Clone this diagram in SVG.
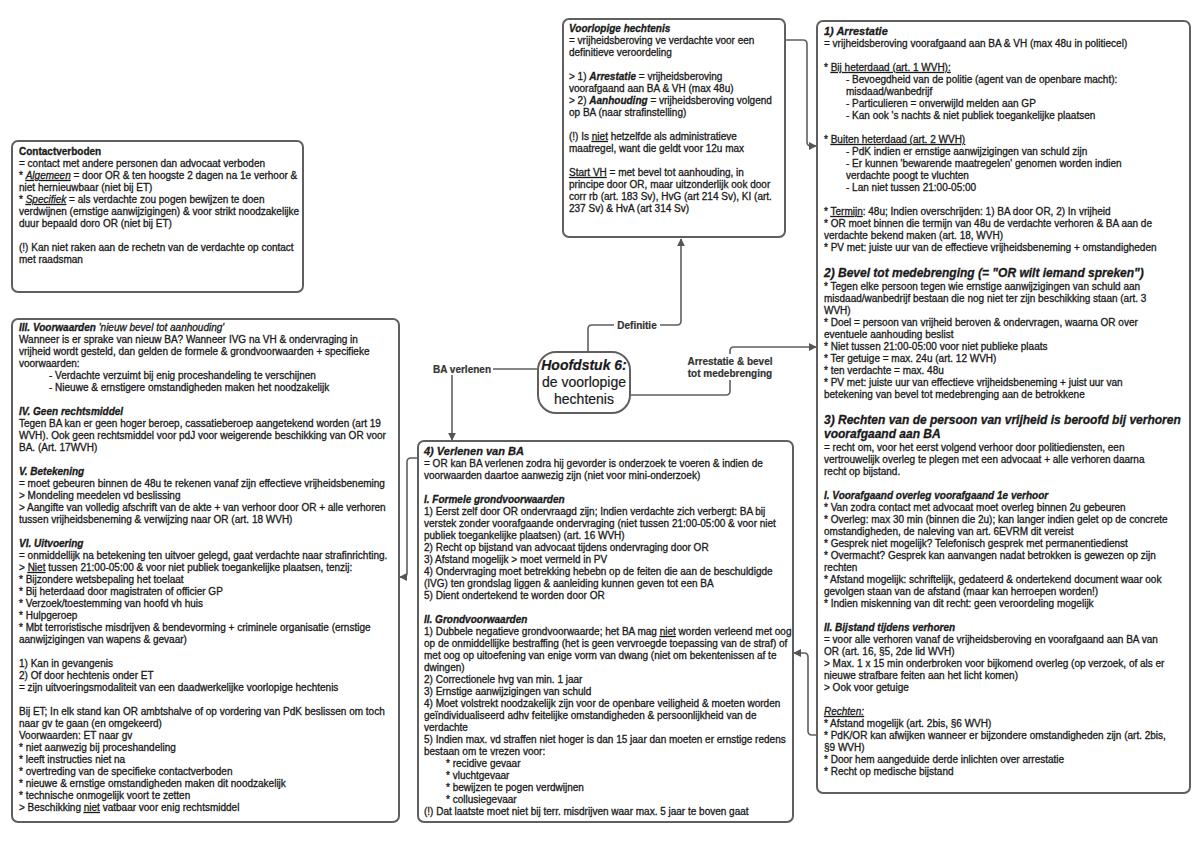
<svg xmlns="http://www.w3.org/2000/svg" width="1200" height="848" viewBox="0 0 1200 848">
<defs>
<style>
.t{font-family:"Liberation Sans",Arial,sans-serif;font-size:10px;fill:#1a1a1a;stroke:#1a1a1a;stroke-width:0.3}
.bi{font-weight:bold;font-style:italic}
.b{font-weight:bold}
.i{font-style:italic}
.u{text-decoration:underline}
.big{font-size:12px}
.box{fill:#fff;stroke:#5f5f5f;stroke-width:2}
.conn{fill:none;stroke:#5f5f5f;stroke-width:1.6}
.lbl{font-family:"Liberation Sans",Arial,sans-serif;font-size:10px;font-weight:bold;fill:#333;stroke:#333;stroke-width:0.2;text-anchor:middle}
.lblbg{fill:#fff}
.node{fill:#fff;stroke:#5f5f5f;stroke-width:2}
.nt{font-family:"Liberation Sans",Arial,sans-serif;font-size:14px;fill:#1a1a1a;stroke:#1a1a1a;stroke-width:0.2;text-anchor:middle}
</style>
<marker id="arr" viewBox="0 0 10 10" refX="9" refY="5" markerWidth="8" markerHeight="8" markerUnits="userSpaceOnUse" orient="auto">
<path d="M0,0 L10,5 L0,10 z" fill="#555"/>
</marker>
</defs>
<rect width="1200" height="848" fill="#fff"/>

<g id="connectors">
<path class="conn" d="M588,352 V329 Q588,325 592,325 H677 Q681,325 681,321 V239" marker-end="url(#arr)"/>
<path class="conn" d="M629,395 H726 Q730,395 730,391 V351 Q730,347 734,347 H816" marker-end="url(#arr)"/>
<path class="conn" d="M537,369 H456 Q452,369 452,373 V440" marker-end="url(#arr)"/>
<path class="conn" d="M785,40 H803 Q807,40 807,44 V142 Q807,146 811,146 H816" marker-end="url(#arr)"/>
<path class="conn" d="M418,458 H411 Q407,458 407,462 V573 Q407,577 403,577 H400" marker-end="url(#arr)"/>
<path class="conn" d="M817,735 H812 Q808,735 808,731 V657 Q808,653 804,653 H794" marker-end="url(#arr)"/>
<rect class="lblbg" x="614" y="319" width="46" height="12"/>
<text class="lbl" x="637" y="329">Definitie</text>
<rect class="lblbg" x="683" y="354" width="94" height="26"/>
<text class="lbl" x="730" y="365">Arrestatie &amp; bevel</text>
<text class="lbl" x="730" y="377">tot medebrenging</text>
<rect class="lblbg" x="431" y="363" width="62" height="12"/>
<text class="lbl" x="462" y="373">BA verlenen</text>
</g>

<g id="node-hoofdstuk">
<rect class="node" x="538" y="352" width="92" height="61" rx="18"/>
<text class="nt" x="584" y="370"><tspan class="bi">Hoofdstuk 6:</tspan><tspan x="584" dy="17">de voorlopige</tspan><tspan x="584" dy="17">hechtenis</tspan></text>
</g>

<g id="node-voorlopige">
<rect class="box" x="563" y="19" width="222" height="218" rx="6"/>
<text class="t" y="32">
<tspan x="569" class="bi">Voorlopige hechtenis</tspan>
<tspan x="569" dy="12">= vrijheidsberoving ve verdachte voor een</tspan>
<tspan x="569" dy="12">definitieve veroordeling</tspan>
<tspan x="569" dy="24">&gt; 1) <tspan class="bi">Arrestatie</tspan> = vrijheidsberoving</tspan>
<tspan x="569" dy="12">voorafgaand aan BA &amp; VH (max 48u)</tspan>
<tspan x="569" dy="12">&gt; 2) <tspan class="bi">Aanhouding</tspan> = vrijheidsberoving volgend</tspan>
<tspan x="569" dy="12">op BA (naar strafinstelling)</tspan>
<tspan x="569" dy="24">(!) Is <tspan class="u">niet</tspan> hetzelfde als administratieve</tspan>
<tspan x="569" dy="12">maatregel, want die geldt voor 12u max</tspan>
<tspan x="569" dy="24"><tspan class="u">Start VH</tspan> = met bevel tot aanhouding, in</tspan>
<tspan x="569" dy="12">principe door OR, maar uitzonderlijk ook door</tspan>
<tspan x="569" dy="12">corr rb (art. 183 Sv), HvG (art 214 Sv), KI (art.</tspan>
<tspan x="569" dy="12">237 Sv) &amp; HvA (art 314 Sv)</tspan>
</text>
</g>

<g id="node-contactverboden">
<rect class="box" x="12" y="141" width="291" height="151" rx="6"/>
<text class="t" y="155">
<tspan x="19" class="b">Contactverboden</tspan>
<tspan x="19" dy="12">= contact met andere personen dan advocaat verboden</tspan>
<tspan x="19" dy="12">* <tspan class="u i">Algemeen</tspan> = door OR &amp; ten hoogste 2 dagen na 1e verhoor &amp;</tspan>
<tspan x="19" dy="12">niet hernieuwbaar (niet bij ET)</tspan>
<tspan x="19" dy="12">* <tspan class="u i">Specifiek</tspan> = als verdachte zou pogen bewijzen te doen</tspan>
<tspan x="19" dy="12">verdwijnen (ernstige aanwijzigingen) &amp; voor strikt noodzakelijke</tspan>
<tspan x="19" dy="12">duur bepaald doro OR (niet bij ET)</tspan>
<tspan x="19" dy="24">(!) Kan niet raken aan de rechetn van de verdachte op contact</tspan>
<tspan x="19" dy="12">met raadsman</tspan>
</text>
</g>

<g id="node-voorwaarden">
<rect class="box" x="12" y="319" width="387" height="503" rx="6"/>
<text class="t" y="331">
<tspan x="19"><tspan class="bi">III. Voorwaarden </tspan><tspan class="i">'nieuw bevel tot aanhouding'</tspan></tspan>
<tspan x="19" dy="12">Wanneer is er sprake van nieuw BA? Wanneer IVG na VH &amp; ondervraging in</tspan>
<tspan x="19" dy="12">vrijheid wordt gesteld, dan gelden de formele &amp; grondvoorwaarden + specifieke</tspan>
<tspan x="19" dy="12">voorwaarden:</tspan>
<tspan x="49" dy="12">- Verdachte verzuimt bij enig proceshandeling te verschijnen</tspan>
<tspan x="49" dy="12">- Nieuwe &amp; ernstigere omstandigheden maken het noodzakelijk</tspan>
<tspan x="19" dy="24" class="bi">IV. Geen rechtsmiddel</tspan>
<tspan x="19" dy="12">Tegen BA kan er geen hoger beroep, cassatieberoep aangetekend worden (art 19</tspan>
<tspan x="19" dy="12">WVH). Ook geen rechtsmiddel voor pdJ voor weigerende beschikking van OR voor</tspan>
<tspan x="19" dy="12">BA. (Art. 17WVH)</tspan>
<tspan x="19" dy="24" class="bi">V. Betekening</tspan>
<tspan x="19" dy="12">= moet gebeuren binnen de 48u te rekenen vanaf zijn effectieve vrijheidsbeneming</tspan>
<tspan x="19" dy="12">&gt; Mondeling meedelen vd beslissing</tspan>
<tspan x="19" dy="12">&gt; Aangifte van volledig afschrift van de akte + van verhoor door OR + alle verhoren</tspan>
<tspan x="19" dy="12">tussen vrijheidsbeneming &amp; verwijzing naar OR (art. 18 WVH)</tspan>
<tspan x="19" dy="24" class="bi">VI. Uitvoering</tspan>
<tspan x="19" dy="12">= onmiddellijk na betekening ten uitvoer gelegd, gaat verdachte naar strafinrichting.</tspan>
<tspan x="19" dy="12">&gt; <tspan class="u">Niet</tspan> tussen 21:00-05:00 &amp; voor niet publiek toegankelijke plaatsen, tenzij:</tspan>
<tspan x="19" dy="12">* Bijzondere wetsbepaling het toelaat</tspan>
<tspan x="19" dy="12">* Bij heterdaad door magistraten of officier GP</tspan>
<tspan x="19" dy="12">* Verzoek/toestemming van hoofd vh huis</tspan>
<tspan x="19" dy="12">* Hulpgeroep</tspan>
<tspan x="19" dy="12">* Mbt terroristische misdrijven &amp; bendevorming + criminele organisatie (ernstige</tspan>
<tspan x="19" dy="12">aanwijzigingen van wapens &amp; gevaar)</tspan>
<tspan x="19" dy="24">1) Kan in gevangenis</tspan>
<tspan x="19" dy="12">2) Of door hechtenis onder ET</tspan>
<tspan x="19" dy="12">= zijn uitvoeringsmodaliteit van een daadwerkelijke voorlopige hechtenis</tspan>
<tspan x="19" dy="24">Bij ET; In elk stand kan OR ambtshalve of op vordering van PdK beslissen om toch</tspan>
<tspan x="19" dy="12">naar gv te gaan (en omgekeerd)</tspan>
<tspan x="19" dy="12">Voorwaarden: ET naar gv</tspan>
<tspan x="19" dy="12">* niet aanwezig bij proceshandeling</tspan>
<tspan x="19" dy="12">* leeft instructies niet na</tspan>
<tspan x="19" dy="12">* overtreding van de specifieke contactverboden</tspan>
<tspan x="19" dy="12">* nieuwe &amp; ernstige omstandigheden maken dit noodzakelijk</tspan>
<tspan x="19" dy="12">* technische onmogelijk voort te zetten</tspan>
<tspan x="19" dy="12">&gt; Beschikking <tspan class="u">niet</tspan> vatbaar voor enig rechtsmiddel</tspan>
</text>
</g>

<g id="node-verlenen">
<rect class="box" x="418" y="441" width="375" height="381" rx="6"/>
<text class="t" y="455">
<tspan x="424" class="bi" style="font-size:11px">4) Verlenen van BA</tspan>
<tspan x="424" dy="12">= OR kan BA verlenen zodra hij gevorder is onderzoek te voeren &amp; indien de</tspan>
<tspan x="424" dy="12">voorwaarden daartoe aanwezig zijn (niet voor mini-onderzoek)</tspan>
<tspan x="424" dy="24" class="bi">I. Formele grondvoorwaarden</tspan>
<tspan x="424" dy="12">1) Eerst zelf door OR ondervraagd zijn; Indien verdachte zich verbergt: BA bij</tspan>
<tspan x="424" dy="12">verstek zonder voorafgaande ondervraging (niet tussen 21:00-05:00 &amp; voor niet</tspan>
<tspan x="424" dy="12">publiek toegankelijke plaatsen) (art. 16 WVH)</tspan>
<tspan x="424" dy="12">2) Recht op bijstand van advocaat tijdens ondervraging door OR</tspan>
<tspan x="424" dy="12">3) Afstand mogelijk &gt; moet vermeld in PV</tspan>
<tspan x="424" dy="12">4) Ondervraging moet betrekking hebebn op de feiten die aan de beschuldigde</tspan>
<tspan x="424" dy="12">(IVG) ten grondslag liggen &amp; aanleiding kunnen geven tot een BA</tspan>
<tspan x="424" dy="12">5) Dient ondertekend te worden door OR</tspan>
<tspan x="424" dy="24" class="bi">II. Grondvoorwaarden</tspan>
<tspan x="424" dy="12">1) Dubbele negatieve grondvoorwaarde; het BA mag <tspan class="u">niet</tspan> worden verleend met oog</tspan>
<tspan x="424" dy="12">op de onmiddellijke bestraffing (het is geen vervroegde toepassing van de straf) of</tspan>
<tspan x="424" dy="12">met oog op uitoefening van enige vorm van dwang (niet om bekentenissen af te</tspan>
<tspan x="424" dy="12">dwingen)</tspan>
<tspan x="424" dy="12">2) Correctionele hvg van min. 1 jaar</tspan>
<tspan x="424" dy="12">3) Ernstige aanwijzigingen van schuld</tspan>
<tspan x="424" dy="12">4) Moet volstrekt noodzakelijk zijn voor de openbare veiligheid &amp; moeten worden</tspan>
<tspan x="424" dy="12">geïndividualiseerd adhv feitelijke omstandigheden &amp; persoonlijkheid van de</tspan>
<tspan x="424" dy="12">verdachte</tspan>
<tspan x="424" dy="12">5) Indien max. vd straffen niet hoger is dan 15 jaar dan moeten er ernstige redens</tspan>
<tspan x="424" dy="12">bestaan om te vrezen voor:</tspan>
<tspan x="446" dy="12">* recidive gevaar</tspan>
<tspan x="446" dy="12">* vluchtgevaar</tspan>
<tspan x="446" dy="12">* bewijzen te pogen verdwijnen</tspan>
<tspan x="446" dy="12">* collusiegevaar</tspan>
<tspan x="424" dy="12">(!) Dat laatste moet niet bij terr. misdrijven waar max. 5 jaar te boven gaat</tspan>
</text>
</g>

<g id="node-arrestatie">
<rect class="box" x="817" y="21" width="373" height="772" rx="6"/>
<text class="t" y="35">
<tspan x="824" class="bi" style="font-size:11px">1) Arrestatie</tspan>
<tspan x="824" dy="12">= vrijheidsberoving voorafgaand aan BA &amp; VH (max 48u in politiecel)</tspan>
<tspan x="824" dy="24">* <tspan class="u">Bij heterdaad (art. 1 WVH):</tspan></tspan>
<tspan x="846" dy="12">- Bevoegdheid van de politie (agent van de openbare macht):</tspan>
<tspan x="846" dy="12">misdaad/wanbedrijf</tspan>
<tspan x="846" dy="12">- Particulieren = onverwijld melden aan GP</tspan>
<tspan x="846" dy="12">- Kan ook 's nachts &amp; niet publiek toegankelijke plaatsen</tspan>
<tspan x="824" dy="24">* <tspan class="u">Buiten heterdaad (art. 2 WVH)</tspan></tspan>
<tspan x="846" dy="12">- PdK indien er ernstige aanwijzigingen van schuld zijn</tspan>
<tspan x="846" dy="12">- Er kunnen 'bewarende maatregelen' genomen worden indien</tspan>
<tspan x="846" dy="12">verdachte poogt te vluchten</tspan>
<tspan x="846" dy="12">- Lan niet tussen 21:00-05:00</tspan>
<tspan x="824" dy="24">* <tspan class="u">Termijn</tspan>: 48u; Indien overschrijden: 1) BA door OR, 2) In vrijheid</tspan>
<tspan x="824" dy="12">* OR moet binnen die termijn van 48u de verdachte verhoren &amp; BA aan de</tspan>
<tspan x="824" dy="12">verdachte bekend maken (art. 18, WVH)</tspan>
<tspan x="824" dy="12">* PV met: juiste uur van de effectieve vrijheidsbeneming + omstandigheden</tspan>
<tspan x="824" dy="26" class="bi big">2) Bevel tot medebrenging (= "OR wilt iemand spreken")</tspan>
<tspan x="824" dy="13">* Tegen elke persoon tegen wie ernstige aanwijzigingen van schuld aan</tspan>
<tspan x="824" dy="12">misdaad/wanbedrijf bestaan die nog niet ter zijn beschikking staan (art. 3</tspan>
<tspan x="824" dy="12">WVH)</tspan>
<tspan x="824" dy="12">* Doel = persoon van vrijheid beroven &amp; ondervragen, waarna OR over</tspan>
<tspan x="824" dy="12">eventuele aanhouding beslist</tspan>
<tspan x="824" dy="12">* Niet tussen 21:00-05:00 voor niet publieke plaats</tspan>
<tspan x="824" dy="12">* Ter getuige = max. 24u (art. 12 WVH)</tspan>
<tspan x="824" dy="12">* ten verdachte = max. 48u</tspan>
<tspan x="824" dy="12">* PV met: juiste uur van effectieve vrijheidsbeneming + juist uur van</tspan>
<tspan x="824" dy="12">betekening van bevel tot medebrenging aan de betrokkene</tspan>
<tspan x="824" dy="26" class="bi big">3) Rechten van de persoon van vrijheid is beroofd bij verhoren</tspan>
<tspan x="824" dy="14" class="bi big">voorafgaand aan BA</tspan>
<tspan x="824" dy="13">= recht om, voor het eerst volgend verhoor door politiediensten, een</tspan>
<tspan x="824" dy="12">vertrouwelijk overleg te plegen met een advocaat + alle verhoren daarna</tspan>
<tspan x="824" dy="12">recht op bijstand.</tspan>
<tspan x="824" dy="24" class="bi">I. Voorafgaand overleg voorafgaand 1e verhoor</tspan>
<tspan x="824" dy="12">* Van zodra contact met advocaat moet overleg binnen 2u gebeuren</tspan>
<tspan x="824" dy="12">* Overleg: max 30 min (binnen die 2u); kan langer indien gelet op de concrete</tspan>
<tspan x="824" dy="12">omstandigheden, de naleving van art. 6EVRM dit vereist</tspan>
<tspan x="824" dy="12">* Gesprek niet mogelijk? Telefonisch gesprek met permanentiedienst</tspan>
<tspan x="824" dy="12">* Overmacht? Gesprek kan aanvangen nadat betrokken is gewezen op zijn</tspan>
<tspan x="824" dy="12">rechten</tspan>
<tspan x="824" dy="12">* Afstand mogelijk: schriftelijk, gedateerd &amp; ondertekend document waar ook</tspan>
<tspan x="824" dy="12">gevolgen staan van de afstand (maar kan herroepen worden!)</tspan>
<tspan x="824" dy="12">* Indien miskenning van dit recht: geen veroordeling mogelijk</tspan>
<tspan x="824" dy="24" class="bi">II. Bijstand tijdens verhoren</tspan>
<tspan x="824" dy="12">= voor alle verhoren vanaf de vrijheidsberoving en voorafgaand aan BA van</tspan>
<tspan x="824" dy="12">OR (art. 16, §5, 2de lid WVH)</tspan>
<tspan x="824" dy="12">&gt; Max. 1 x 15 min onderbroken voor bijkomend overleg (op verzoek, of als er</tspan>
<tspan x="824" dy="12">nieuwe strafbare feiten aan het licht komen)</tspan>
<tspan x="824" dy="12">&gt; Ook voor getuige</tspan>
<tspan x="824" dy="24" class="u i">Rechten:</tspan>
<tspan x="824" dy="12">* Afstand mogelijk (art. 2bis, §6 WVH)</tspan>
<tspan x="824" dy="12">* PdK/OR kan afwijken wanneer er bijzondere omstandigheden zijn (art. 2bis,</tspan>
<tspan x="824" dy="12">§9 WVH)</tspan>
<tspan x="824" dy="12">* Door hem aangeduide derde inlichten over arrestatie</tspan>
<tspan x="824" dy="12">* Recht op medische bijstand</tspan>
</text>
</g>
</svg>
